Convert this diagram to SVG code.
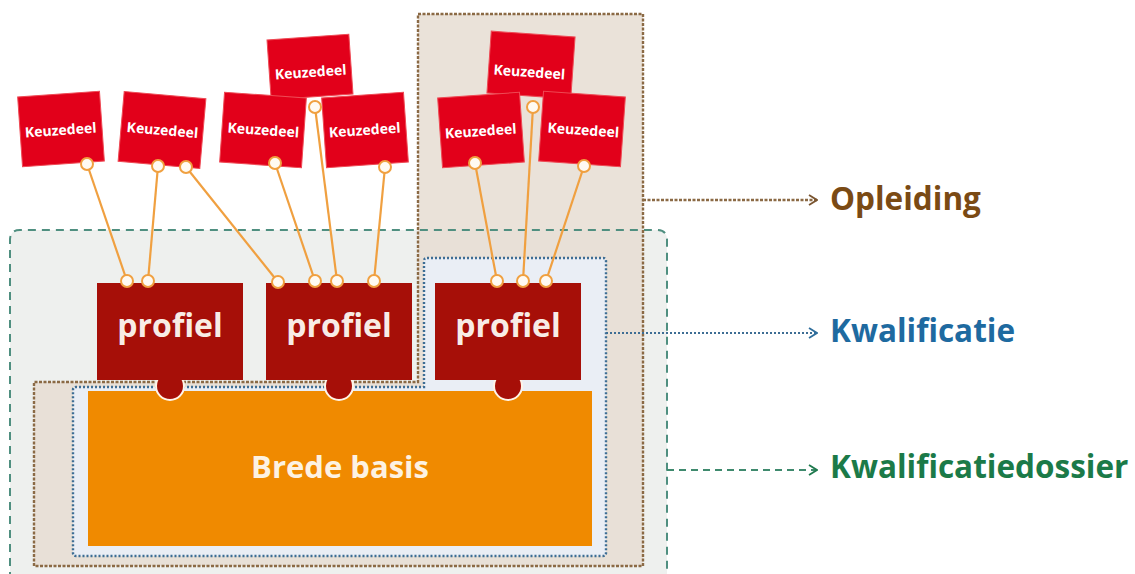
<svg xmlns="http://www.w3.org/2000/svg" width="1135" height="574" viewBox="0 0 1135 574">
  <defs>
    <style>
      .card { fill: #e2001a; stroke: #ee4a55; stroke-width: 1; }
      .cardtxt { font-family: "Open Sans", "Liberation Sans", sans-serif; font-weight: 700; font-size: 14px; fill: #ffffff; text-anchor: middle; }
      .prof { fill: #a60f08; }
      .tab { fill: #a60f08; stroke: #fff4e8; stroke-width: 2; }
      .proftxt { font-family: "Open Sans", "Liberation Sans", sans-serif; font-weight: 700; font-size: 32px; fill: #f8ece6; text-anchor: middle; }
      .wire { stroke: #f0a040; stroke-width: 2.2; fill: none; }
      .pin { fill: #fffaf2; stroke: #f0a040; stroke-width: 2; }
      .lbl { font-family: "Open Sans", "Liberation Sans", sans-serif; font-weight: 700; font-size: 31.5px; }
    </style>
    <marker id="ahBrown" viewBox="0 0 10 12" refX="9" refY="6" markerWidth="10" markerHeight="12" markerUnits="userSpaceOnUse" orient="auto">
      <path d="M1,1 L9,6 L1,11" fill="none" stroke="#7a5530" stroke-width="1.8"/>
    </marker>
    <marker id="ahBlue" viewBox="0 0 10 12" refX="9" refY="6" markerWidth="10" markerHeight="12" markerUnits="userSpaceOnUse" orient="auto">
      <path d="M1,1 L9,6 L1,11" fill="none" stroke="#2f6e9c" stroke-width="1.8"/>
    </marker>
    <marker id="ahGreen" viewBox="0 0 10 12" refX="9" refY="6" markerWidth="10" markerHeight="12" markerUnits="userSpaceOnUse" orient="auto">
      <path d="M1,1 L9,6 L1,11" fill="none" stroke="#1f7a4e" stroke-width="1.8"/>
    </marker>
  </defs>

  <rect width="1135" height="574" fill="#ffffff"/>

  <!-- container fills -->
  <g id="kwalificatiedossier">
    <path d="M10,580 V240 Q10,230 20,230 H657 Q667,230 667,240 V580 Z" fill="#eef0ee"/>
  </g>
  <g id="opleiding">
    <path d="M418,14 H643 V566 H34 V382 H418 Z" fill="#e6ddd2" fill-opacity="0.85"/>
  </g>
  <g id="kwalificatie">
    <path d="M427,258 H603 Q606,258 606,261 V553 Q606,556 603,556 H76 Q73,556 73,553 V390 Q73,387 76,387 H424 V261 Q424,258 427,258 Z" fill="#eaeef5"/>
  </g>

  <!-- container borders -->
  <g id="borders" fill="none">
    <path d="M10,580 V240 Q10,230 20,230 H657 Q667,230 667,240 V580" stroke="#4f8f80" stroke-width="2" stroke-dasharray="8 6"/>
    <path d="M418,14 H643 V566 H34 V382 H418 Z" stroke="#8b6a45" stroke-width="2.4" stroke-dasharray="3 1.5"/>
    <path d="M427,258 H603 Q606,258 606,261 V553 Q606,556 603,556 H76 Q73,556 73,553 V390 Q73,387 76,387 H424 V261 Q424,258 427,258 Z" stroke="#3d6d94" stroke-width="2.4" stroke-dasharray="2 2"/>
  </g>

  <!-- Brede basis -->
  <g id="brede-basis">
    <rect x="88" y="391" width="504" height="155" fill="#f08a00"/>
    <text x="340" y="478" class="lbl" style="font-size:31px" fill="#fdf2e2" text-anchor="middle">Brede basis</text>
  </g>

  <!-- profiel nodes -->
  <g id="profiel-1">
    <circle class="tab" cx="170" cy="386" r="14"/>
    <rect class="prof" x="97" y="283" width="146" height="97"/>
    <text class="proftxt" x="170" y="337">profiel</text>
  </g>
  <g id="profiel-2">
    <circle class="tab" cx="339" cy="386" r="14"/>
    <rect class="prof" x="266" y="283" width="146" height="97"/>
    <text class="proftxt" x="339" y="337">profiel</text>
  </g>
  <g id="profiel-3">
    <circle class="tab" cx="508" cy="386" r="14"/>
    <rect class="prof" x="435" y="283" width="146" height="97"/>
    <text class="proftxt" x="508" y="337">profiel</text>
  </g>

  <!-- connectors -->
  <g id="connectors">
    <line class="wire" x1="87" y1="164" x2="127" y2="281"/>
    <line class="wire" x1="158" y1="166" x2="148" y2="281"/>
    <line class="wire" x1="186" y1="167" x2="278" y2="282"/>
    <line class="wire" x1="275" y1="163" x2="315" y2="281"/>
    <line class="wire" x1="315" y1="107" x2="337" y2="281"/>
    <line class="wire" x1="385" y1="167" x2="374" y2="281"/>
    <line class="wire" x1="475" y1="163" x2="497" y2="281"/>
    <line class="wire" x1="533" y1="107" x2="523" y2="281"/>
    <line class="wire" x1="584" y1="166" x2="546" y2="281"/>

    <line x1="643" y1="200" x2="817" y2="200" stroke="#8b6a45" stroke-width="2.4" stroke-dasharray="3 1.5" marker-end="url(#ahBrown)"/>
    <line x1="606" y1="333" x2="817" y2="333" stroke="#3d6d94" stroke-width="2.2" stroke-dasharray="2 2" marker-end="url(#ahBlue)"/>
    <line x1="667" y1="470" x2="817" y2="470" stroke="#3f8a6e" stroke-width="2" stroke-dasharray="7 5" marker-end="url(#ahGreen)"/>
  </g>

  <!-- keuzedeel cards -->
  <g id="keuzedeel-3">
    <rect class="card" x="-41" y="-30" width="82" height="60" transform="translate(310,67) rotate(-4)"/>
    <text class="cardtxt" transform="translate(311,77) rotate(-4)">Keuzedeel</text>
  </g>
  <g id="keuzedeel-6">
    <rect class="card" x="-42" y="-31" width="84" height="62" transform="translate(531,65) rotate(4)"/>
    <text class="cardtxt" transform="translate(529,77) rotate(4)">Keuzedeel</text>
  </g>
  <g id="keuzedeel-1">
    <rect class="card" x="-41" y="-35" width="82" height="70" transform="translate(61,129) rotate(-4)"/>
    <text class="cardtxt" transform="translate(61,135) rotate(-4)">Keuzedeel</text>
  </g>
  <g id="keuzedeel-2">
    <rect class="card" x="-41" y="-35" width="82" height="70" transform="translate(162,130) rotate(5)"/>
    <text class="cardtxt" transform="translate(162,135) rotate(5)">Keuzedeel</text>
  </g>
  <g id="keuzedeel-4">
    <rect class="card" x="-41" y="-35" width="82" height="70" transform="translate(263,130) rotate(4)"/>
    <text class="cardtxt" transform="translate(263,135) rotate(4)">Keuzedeel</text>
  </g>
  <g id="keuzedeel-5">
    <rect class="card" x="-41" y="-35" width="82" height="70" transform="translate(365,130) rotate(-4)"/>
    <text class="cardtxt" transform="translate(365,135) rotate(-4)">Keuzedeel</text>
  </g>
  <g id="keuzedeel-7">
    <rect class="card" x="-41" y="-35" width="82" height="70" transform="translate(481,130) rotate(-4)"/>
    <text class="cardtxt" transform="translate(481,136) rotate(-4)">Keuzedeel</text>
  </g>
  <g id="keuzedeel-8">
    <rect class="card" x="-41" y="-35" width="82" height="70" transform="translate(582,129) rotate(4)"/>
    <text class="cardtxt" transform="translate(583,135) rotate(4)">Keuzedeel</text>
  </g>

  <!-- pins -->
  <g id="pins">
    <circle class="pin" cx="87" cy="164" r="6"/>
    <circle class="pin" cx="158" cy="166" r="6"/>
    <circle class="pin" cx="186" cy="167" r="6"/>
    <circle class="pin" cx="275" cy="163" r="6"/>
    <circle class="pin" cx="315" cy="107" r="6"/>
    <circle class="pin" cx="385" cy="167" r="6"/>
    <circle class="pin" cx="475" cy="163" r="6"/>
    <circle class="pin" cx="533" cy="107" r="6"/>
    <circle class="pin" cx="584" cy="166" r="6"/>
    <circle class="pin" cx="127" cy="281" r="6"/>
    <circle class="pin" cx="148" cy="281" r="6"/>
    <circle class="pin" cx="278" cy="282" r="6"/>
    <circle class="pin" cx="315" cy="281" r="6"/>
    <circle class="pin" cx="337" cy="281" r="6"/>
    <circle class="pin" cx="374" cy="281" r="6"/>
    <circle class="pin" cx="497" cy="281" r="6"/>
    <circle class="pin" cx="523" cy="281" r="6"/>
    <circle class="pin" cx="546" cy="281" r="6"/>
  </g>

  <!-- labels -->
  <g id="label-opleiding">
    <text class="lbl" x="830" y="210" fill="#7a4a14">Opleiding</text>
  </g>
  <g id="label-kwalificatie">
    <text class="lbl" x="830" y="342" fill="#1e6aa0">Kwalificatie</text>
  </g>
  <g id="label-kwalificatiedossier">
    <text class="lbl" x="830" y="478" fill="#1b7a48">Kwalificatiedossier</text>
  </g>
</svg>
